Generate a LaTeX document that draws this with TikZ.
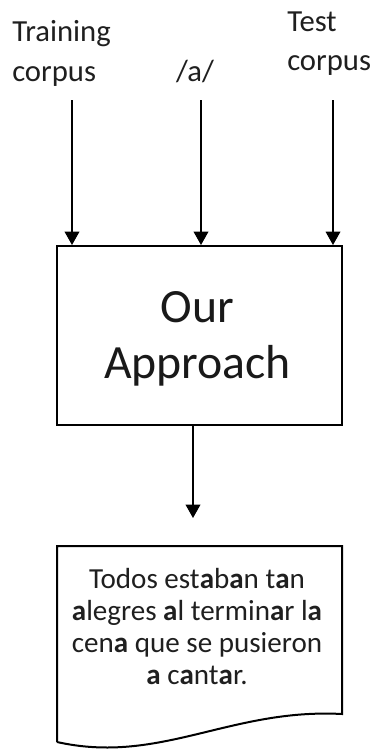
\documentclass[tikz,border=0pt]{standalone}
\usepackage{fontspec}
\setmainfont{Carlito}
\usetikzlibrary{arrows.meta}
\newcommand{\Ba}{\textbf{a}}
\begin{document}
\begin{tikzpicture}[x=0.75pt,y=-0.75pt,
  conn/.style={line width=1pt,-{Triangle[width=11pt,length=10pt]}},
  frame/.style={draw=black,line width=1.5pt},
  lbl/.style={inner sep=0pt,text=black!88,font=\fontsize{23}{30}\selectfont},
]
\useasboundingbox (0,0) rectangle (374,749);
% labels
\node[lbl,anchor=base west,align=left] (train) at (12,81.7) {Training\\corpus};
\node[lbl,anchor=base] (phon) at (195,81) {/a/};
\node[lbl,anchor=base west,align=left,font=\fontsize{23}{28.5}\selectfont] (test) at (287,70) {Test\\corpus};
% main box
\node[frame,minimum width=213.75pt,minimum height=134.25pt,inner sep=0pt] (box) at (199.5,335.5) {};
\node[inner sep=0pt,anchor=base,align=center,text=black!90,font=\fontsize{35.8}{41.5}\selectfont] (app) at (197.5,378) {Our\\Approach};
% arrow starts
\coordinate (sA) at (72,100);
\coordinate (sB) at (201,100);
\coordinate (sC) at (333,100);
\draw[conn] (sA) -- (sA |- box.north);
\draw[conn] (sB) -- (sB |- box.north);
\draw[conn] (sC) -- (sC |- box.north);
% document
\coordinate (dTL) at (57,546);
\coordinate (dTR) at (342,546);
\coordinate (dBR) at (342,714);
\coordinate (dBL) at (57,742);
\draw[frame,line join=miter] (dBL) -- (dTL) -- (dTR) -- (dBR) .. controls (230,708) and (160,765) .. (dBL);
\coordinate (bS) at (193,425);
\coordinate (bE) at (193,518);
\draw[conn] (bS) -- (bE);
\node[inner sep=0pt,anchor=base,align=center,text=black!88,font=\fontsize{21.8}{24}\selectfont] (doc) at (197,684)
  {Todos est\Ba b\Ba n t\Ba n\\\Ba legres \Ba l termin\Ba r l\Ba\\cen\Ba{} que se pusieron\\\Ba{} c\Ba nt\Ba r.};
\end{tikzpicture}
\end{document}
